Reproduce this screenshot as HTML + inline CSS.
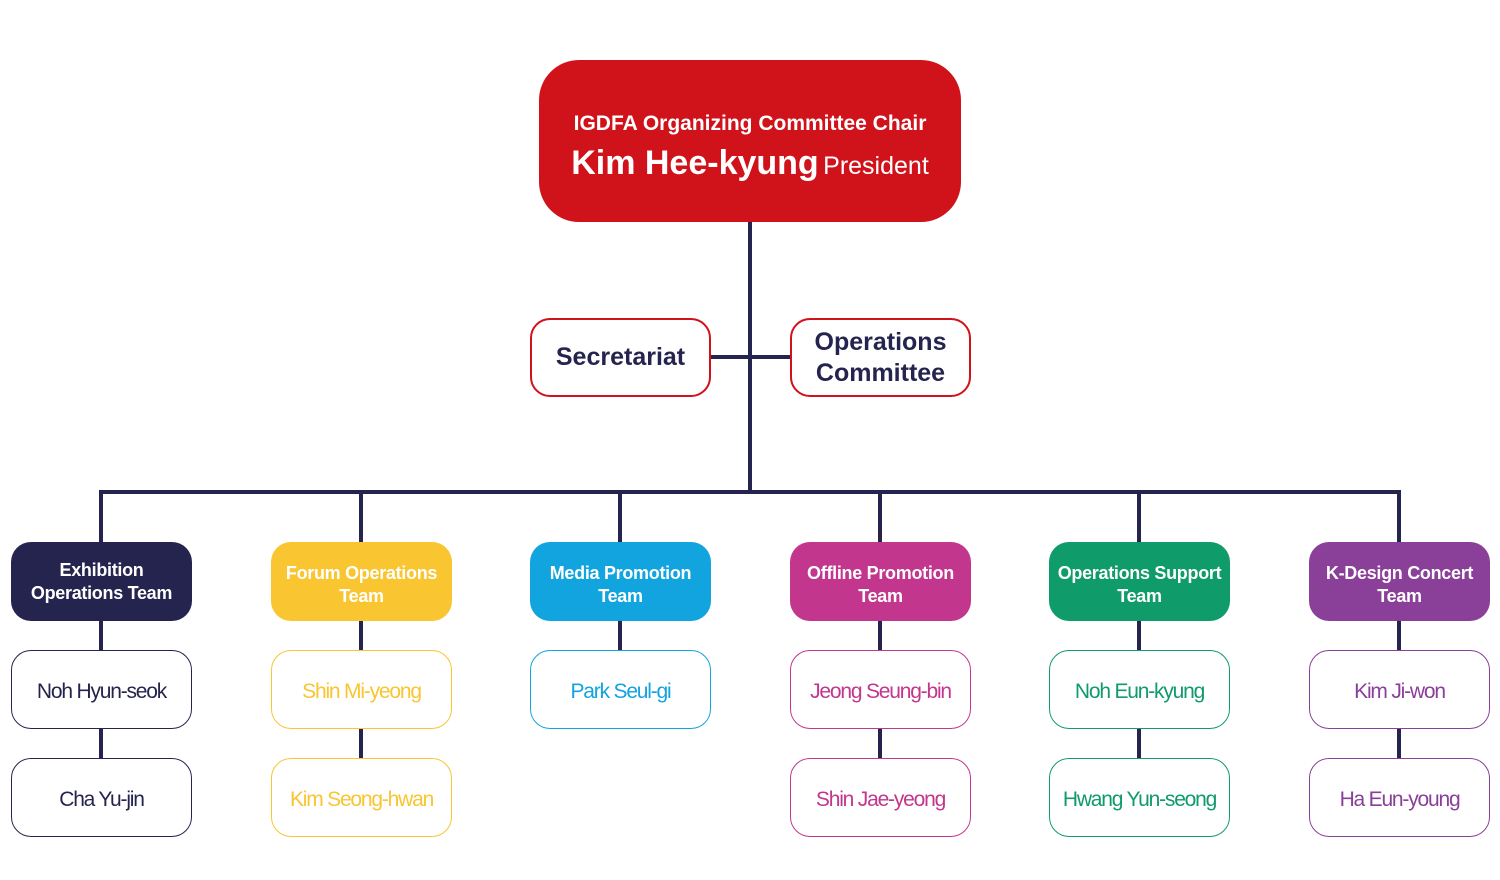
<!DOCTYPE html>
<html><head><meta charset="utf-8"><style>
body{margin:0;width:1500px;height:880px;background:#fff;position:relative;overflow:hidden;font-family:"Liberation Sans","DejaVu Sans",sans-serif}
.b{position:absolute;box-sizing:border-box;display:flex;align-items:center;justify-content:center;text-align:center;border-radius:20px}
.t{width:181px;height:79px;top:542px;color:#fff;font-weight:bold;font-size:18px;line-height:23px;letter-spacing:-0.3px}
.m{width:181px;height:79px;background:#fff;border:1.5px solid;font-size:21px;letter-spacing:-1.2px;padding-top:5px}
</style></head><body>
<svg width="1500" height="880" style="position:absolute;left:0;top:0">
<g stroke="#25244f" stroke-width="4" fill="none">
<line x1="750" y1="220" x2="750" y2="494"/>
<line x1="710" y1="357" x2="792" y2="357"/>
<polyline points="101,542 101,492 1399,492 1399,542"/>
<line x1="361" y1="492" x2="361" y2="542"/>
<line x1="620" y1="492" x2="620" y2="542"/>
<line x1="880" y1="492" x2="880" y2="542"/>
<line x1="1139" y1="492" x2="1139" y2="542"/>
<line x1="101" y1="620" x2="101" y2="760"/>
<line x1="361" y1="620" x2="361" y2="760"/>
<line x1="620" y1="620" x2="620" y2="651"/>
<line x1="880" y1="620" x2="880" y2="760"/>
<line x1="1139" y1="620" x2="1139" y2="760"/>
<line x1="1399" y1="620" x2="1399" y2="760"/>
</g></svg>
<div class="b" style="left:539px;top:60px;width:422px;height:162px;background:#d0121b;border-radius:40px;color:#fff;flex-direction:column;padding-top:12px">
<div style="font-weight:bold;font-size:21px">IGDFA Organizing Committee Chair</div>
<div style="margin-top:8px"><span style="font-weight:bold;font-size:34px">Kim Hee-kyung</span> <span style="font-size:25px">President</span></div>
</div>
<div class="b" style="left:530px;top:318px;width:181px;height:79px;border:2px solid #d0121b;color:#25244f;font-weight:bold;font-size:25px">Secretariat</div>
<div class="b" style="left:790px;top:318px;width:181px;height:79px;border:2px solid #d0121b;color:#25244f;font-weight:bold;font-size:25px;line-height:31px">Operations<br>Committee</div>

<div class="b t" style="left:11px;background:#25244f">Exhibition<br>Operations Team</div>
<div class="b t" style="left:271px;background:#f9c531;padding-top:6px">Forum Operations<br>Team</div>
<div class="b t" style="left:530px;background:#12a4df;padding-top:6px">Media Promotion<br>Team</div>
<div class="b t" style="left:790px;background:#c2368e;padding-top:6px">Offline Promotion<br>Team</div>
<div class="b t" style="left:1049px;background:#0f9b6a;padding-top:6px">Operations Support<br>Team</div>
<div class="b t" style="left:1309px;background:#8a3f98;padding-top:6px">K-Design Concert<br>Team</div>

<div class="b m" style="left:11px;top:650px;border-color:#25244f;color:#25244f">Noh Hyun-seok</div>
<div class="b m" style="left:11px;top:758px;border-color:#25244f;color:#25244f">Cha Yu-jin</div>
<div class="b m" style="left:271px;top:650px;border-color:#f9c531;color:#f9c531">Shin Mi-yeong</div>
<div class="b m" style="left:271px;top:758px;border-color:#f9c531;color:#f9c531">Kim Seong-hwan</div>
<div class="b m" style="left:530px;top:650px;border-color:#12a4df;color:#12a4df">Park Seul-gi</div>
<div class="b m" style="left:790px;top:650px;border-color:#c2368e;color:#c2368e">Jeong Seung-bin</div>
<div class="b m" style="left:790px;top:758px;border-color:#c2368e;color:#c2368e">Shin Jae-yeong</div>
<div class="b m" style="left:1049px;top:650px;border-color:#0f9b6a;color:#0f9b6a">Noh Eun-kyung</div>
<div class="b m" style="left:1049px;top:758px;border-color:#0f9b6a;color:#0f9b6a">Hwang Yun-seong</div>
<div class="b m" style="left:1309px;top:650px;border-color:#8a3f98;color:#8a3f98">Kim Ji-won</div>
<div class="b m" style="left:1309px;top:758px;border-color:#8a3f98;color:#8a3f98">Ha Eun-young</div>
</body></html>
